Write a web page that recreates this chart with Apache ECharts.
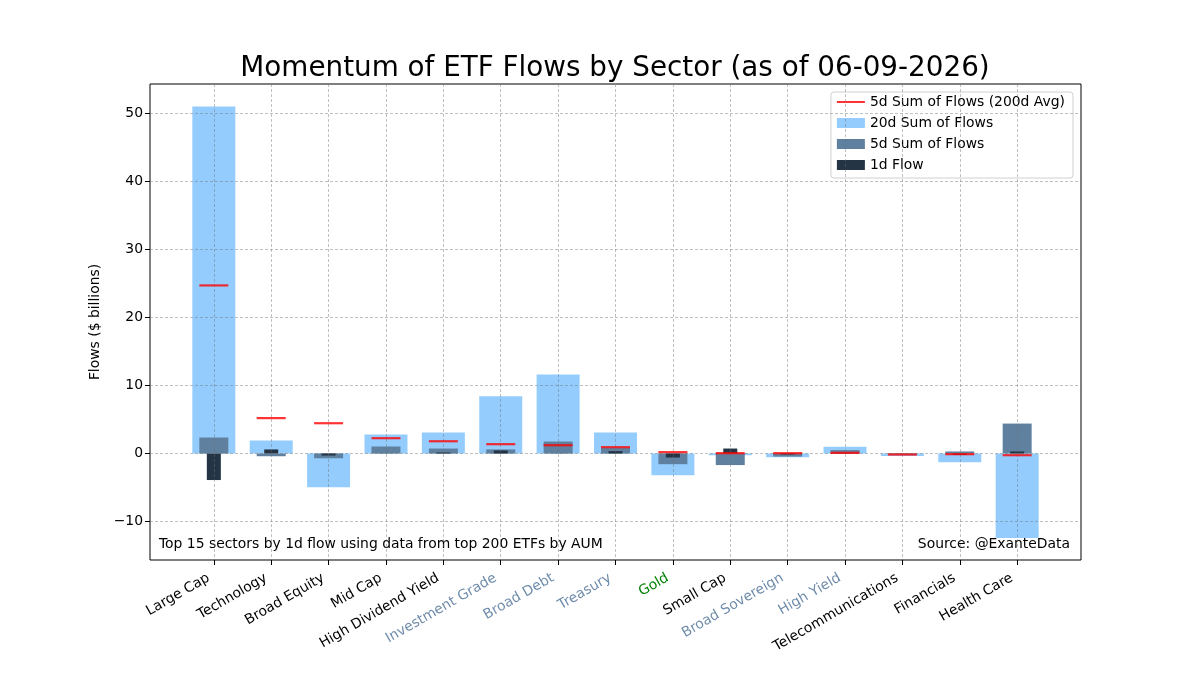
<!DOCTYPE html>
<html>
<head>
<meta charset="utf-8">
<script src="https://cdn.jsdelivr.net/npm/echarts@6/dist/echarts.min.js"></script>
<style>
  html, body { margin: 0; padding: 0; background: #fff; }
  #main { width: 1200px; height: 700px; }
</style>
</head>
<body>
<div id="main"></div>
<script>
var sectors = ['Large Cap', 'Technology', 'Broad Equity', 'Mid Cap', 'High Dividend Yield',
    'Investment Grade', 'Broad Debt', 'Treasury', 'Gold', 'Small Cap',
    'Broad Sovereign', 'High Yield', 'Telecommunications', 'Financials', 'Health Care'];
var sum20d = [51.0, 1.9, -4.95, 2.8, 3.1, 8.4, 11.6, 3.1, -3.2, -0.25, -0.55, 1.0, -0.35, -1.27, -12.4];
var sum5d = [2.35, -0.4, -0.7, 1.03, 0.73, 0.6, 1.76, 0.83, -1.57, -1.7, -0.45, 0.5, -0.1, 0.3, 4.4];
var flow1d = [-3.9, 0.6, -0.3, 0.02, 0.15, 0.45, 0.02, 0.35, -0.59, 0.73, -0.15, 0.05, 0.02, -0.2, 0.3];
var avg5d200 = [24.7, 5.2, 4.45, 2.25, 1.8, 1.37, 1.22, 0.93, 0.2, 0.05, 0.05, 0.1, -0.15, -0.1, -0.25];
var yTicks = [-10, 0, 10, 20, 30, 40, 50];

// label colours by asset type
var bondSectors = ['Investment Grade', 'Broad Debt', 'Treasury', 'Broad Sovereign', 'High Yield'];
var commoditySectors = ['Gold'];

var font = 'DejaVu Sans';
var fs = 13.9;
var gridColor = 'rgba(110,110,110,0.55)';
var xTicks = sectors.map(function(s, i) { return i; });

function pairs(arr) {
    return arr.map(function(v, i) { return [i, v]; });
}

function labelColor(i) {
    var name = sectors[Math.round(i)];
    if (bondSectors.indexOf(name) >= 0) return '#6f8cab';
    if (commoditySectors.indexOf(name) >= 0) return '#008000';
    return '#000';
}

function xAxisDef(visible) {
    return {
        type: 'value', min: -1.1125, max: 15.1125, gridIndex: 0,
        position: 'bottom', z: 4.5,
        show: visible,
        axisLine: { show: false, onZero: false },
        axisTick: { show: visible, customValues: xTicks, length: 5, lineStyle: { color: '#000' } },
        axisLabel: {
            show: visible, customValues: xTicks, rotate: 30, margin: 14,
            padding: [0, 6, 0, 0],
            fontFamily: font, fontSize: fs,
            formatter: function(v) { return sectors[Math.round(v)] || ''; },
            color: function(v) { return labelColor(v); }
        },
        splitLine: { show: visible, lineStyle: { color: gridColor, type: [3, 2], width: 0.8 } }
    };
}

var chart = echarts.init(document.getElementById('main'));

var option = {
    animation: false,
    backgroundColor: '#fff',
    title: {
        text: 'Momentum of ETF Flows by Sector (as of 06-09-2026)',
        left: 610, top: 50, textAlign: 'center',
        textStyle: { fontFamily: font, fontSize: 27.8, fontWeight: 'normal', color: '#000' }
    },
    grid: {
        left: 150, right: 119, top: 84, bottom: 140,
        show: true, borderColor: '#000', borderWidth: 1
    },
    legend: {
        orient: 'vertical', right: 127, top: 92,
        itemWidth: 28, itemHeight: 10, itemGap: 7,
        padding: [3, 8, 6, 6],
        borderColor: '#d0d0d0', borderWidth: 1, borderRadius: 3,
        backgroundColor: 'rgba(255,255,255,0.85)',
        textStyle: { fontFamily: font, fontSize: fs, color: '#000' },
        data: [
            { name: '5d Sum of Flows (200d Avg)', icon: 'path://M0,0 L28,0 L28,2 L0,2 Z' },
            { name: '20d Sum of Flows', icon: 'rect' },
            { name: '5d Sum of Flows', icon: 'rect' },
            { name: '1d Flow', icon: 'rect' }
        ]
    },
    xAxis: [xAxisDef(true), xAxisDef(false), xAxisDef(false), xAxisDef(false)],
    yAxis: {
        type: 'value', min: -15.65, max: 54.3, position: 'left', z: 4.5,
        name: 'Flows ($ billions)', nameLocation: 'middle', nameGap: 46,
        nameTextStyle: { fontFamily: font, fontSize: fs, color: '#000' },
        axisLine: { show: false, onZero: false },
        axisTick: { show: true, customValues: yTicks, length: 5, lineStyle: { color: '#000' } },
        axisLabel: {
            customValues: yTicks, fontFamily: font, fontSize: fs, color: '#000', margin: 7,
            formatter: function(v) { return v < 0 ? '\u2212' + Math.abs(v) : String(v); }
        },
        splitLine: { show: true, lineStyle: { color: gridColor, type: [3, 2], width: 0.8 } }
    },
    series: [
        {
            name: '20d Sum of Flows', type: 'bar', xAxisIndex: 1,
            barWidth: 43, itemStyle: { color: '#94cdfd' },
            data: pairs(sum20d), z: 2
        },
        {
            name: '5d Sum of Flows', type: 'bar', xAxisIndex: 2,
            barWidth: 29, itemStyle: { color: '#5f809f' },
            data: pairs(sum5d), z: 3
        },
        {
            name: '1d Flow', type: 'bar', xAxisIndex: 3,
            barWidth: 14, itemStyle: { color: '#243444' },
            data: pairs(flow1d), z: 4
        },
        {
            name: '5d Sum of Flows (200d Avg)', type: 'scatter', xAxisIndex: 0,
            symbol: 'rect', symbolSize: [29, 2.2],
            itemStyle: { color: '#ff0000' },
            data: pairs(avg5d200), z: 5
        }
    ],
    graphic: [
        {
            type: 'text', left: 159, top: 537,
            style: { text: 'Top 15 sectors by 1d flow using data from top 200 ETFs by AUM',
                font: fs + 'px "DejaVu Sans"', fill: '#000' }
        },
        {
            type: 'text', right: 130, top: 537,
            style: { text: 'Source: @ExanteData', font: fs + 'px "DejaVu Sans"', fill: '#000' }
        }
    ]
};

chart.setOption(option);
</script>
</body>
</html>
